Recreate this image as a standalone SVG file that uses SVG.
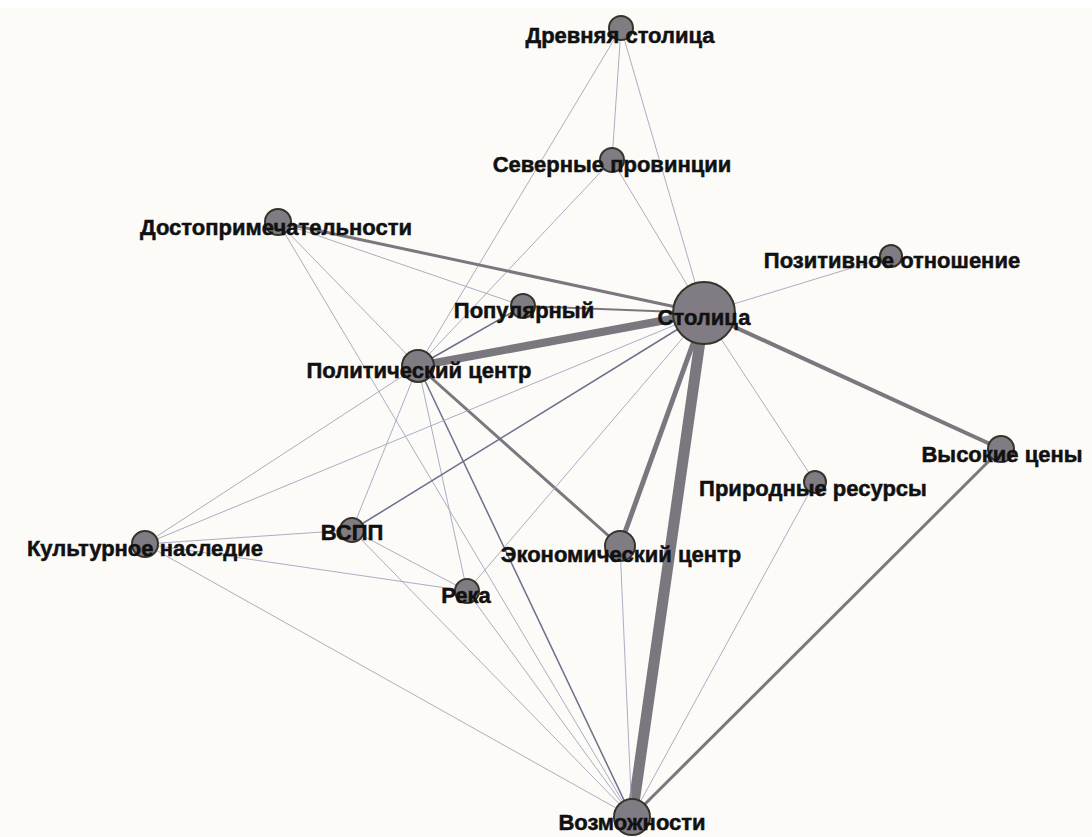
<svg xmlns="http://www.w3.org/2000/svg" width="1092" height="837" viewBox="0 0 1092 837">
<style>
.t{stroke:#a3a3bf;stroke-width:0.9;fill:none}
.d{stroke:#6e6e8a;stroke-width:1.5;fill:none}
.m{stroke:#7b777f;fill:none}
.n{fill:#817c83;stroke:#36342a;stroke-width:2}
.l{font-family:"Liberation Sans",Arial,sans-serif;font-weight:bold;font-size:22px;fill:#111;stroke:#111;stroke-width:0.5;text-anchor:middle}
</style>
<rect width="1092" height="837" fill="#ffffff"/>
<rect y="8" width="1092" height="829" fill="#fcfbf8"/>
<g id="edges">
<line class="t" x1="621" y1="28" x2="418" y2="366"/>
<line class="t" x1="621" y1="28" x2="612" y2="160"/>
<line class="t" x1="621" y1="28" x2="704" y2="313"/>
<line class="t" x1="612" y1="160" x2="418" y2="366"/>
<line class="t" x1="612" y1="160" x2="704" y2="313"/>
<line class="m" stroke-width="3" x1="278" y1="222" x2="704" y2="313"/>
<line class="t" x1="278" y1="222" x2="523" y2="306"/>
<line class="t" x1="278" y1="222" x2="418" y2="366"/>
<line class="t" x1="278" y1="222" x2="632" y2="817"/>
<line class="t" x1="891" y1="256" x2="704" y2="313"/>
<line class="m" stroke-width="2" x1="523" y1="306" x2="704" y2="313"/>
<line class="d" stroke-width="1.1" x1="523" y1="306" x2="418" y2="366"/>
<line class="m" stroke-width="8" x1="418" y1="366" x2="704" y2="313"/>
<line class="t" x1="418" y1="366" x2="145" y2="544"/>
<line class="t" x1="418" y1="366" x2="352" y2="530"/>
<line class="t" x1="418" y1="366" x2="467" y2="591"/>
<line class="d" x1="418" y1="366" x2="632" y2="817"/>
<line class="m" stroke-width="3" x1="418" y1="366" x2="620" y2="546"/>
<line class="t" x1="704" y1="313" x2="145" y2="544"/>
<line class="d" x1="704" y1="313" x2="352" y2="530"/>
<line class="t" x1="704" y1="313" x2="467" y2="591"/>
<line class="m" stroke-width="5" x1="704" y1="313" x2="620" y2="546"/>
<line class="m" stroke-width="11" x1="704" y1="313" x2="632" y2="817"/>
<line class="m" stroke-width="4" x1="704" y1="313" x2="1001" y2="449"/>
<line class="t" x1="704" y1="313" x2="815" y2="482"/>
<line class="m" stroke-width="3" x1="1001" y1="449" x2="632" y2="817"/>
<line class="t" x1="815" y1="482" x2="632" y2="817"/>
<line class="t" x1="145" y1="544" x2="352" y2="530"/>
<line class="t" x1="145" y1="544" x2="467" y2="591"/>
<line class="t" x1="145" y1="544" x2="632" y2="817"/>
<line class="t" x1="352" y1="530" x2="467" y2="591"/>
<line class="t" x1="352" y1="530" x2="632" y2="817"/>
<line class="t" x1="467" y1="591" x2="632" y2="817"/>
<line class="t" x1="620" y1="546" x2="632" y2="817"/>
</g>
<g id="n-drevnyaya"><circle class="n" cx="621" cy="28" r="12"/><text class="l" x="620" y="43">Древняя столица</text></g>
<g id="n-severnye"><circle class="n" cx="612" cy="160" r="12"/><text class="l" x="612" y="172">Северные провинции</text></g>
<g id="n-dostoprim"><circle class="n" cx="278" cy="222" r="13"/><text class="l" x="276" y="235">Достопримечательности</text></g>
<g id="n-pozitiv"><circle class="n" cx="891" cy="256" r="11"/><text class="l" x="892" y="268">Позитивное отношение</text></g>
<g id="n-populyarny"><circle class="n" cx="523" cy="306" r="12"/><text class="l" x="524" y="318">Популярный</text></g>
<g id="n-stolitsa"><circle class="n" cx="704" cy="313" r="31" stroke-width="4"/><text class="l" x="704" y="325">Столица</text></g>
<g id="n-politcentr"><circle class="n" cx="418" cy="366" r="16"/><text class="l" x="419" y="378">Политический центр</text></g>
<g id="n-vysokie"><circle class="n" cx="1001" cy="449" r="13"/><text class="l" x="1002" y="462">Высокие цены</text></g>
<g id="n-prirodnye"><circle class="n" cx="815" cy="482" r="11"/><text class="l" x="813" y="496">Природные ресурсы</text></g>
<g id="n-vspp"><circle class="n" cx="352" cy="530" r="12"/><text class="l" x="352" y="540">ВСПП</text></g>
<g id="n-kulturnoe"><circle class="n" cx="145" cy="544" r="13"/><text class="l" x="145" y="556">Культурное наследие</text></g>
<g id="n-ekonomcentr"><circle class="n" cx="620" cy="546" r="15"/><text class="l" x="621" y="562">Экономический центр</text></g>
<g id="n-reka"><circle class="n" cx="467" cy="591" r="12"/><text class="l" x="466" y="603">Река</text></g>
<g id="n-vozmozhnosti"><circle class="n" cx="632" cy="817" r="18"/><text class="l" x="632" y="830">Возможности</text></g>
</svg>
